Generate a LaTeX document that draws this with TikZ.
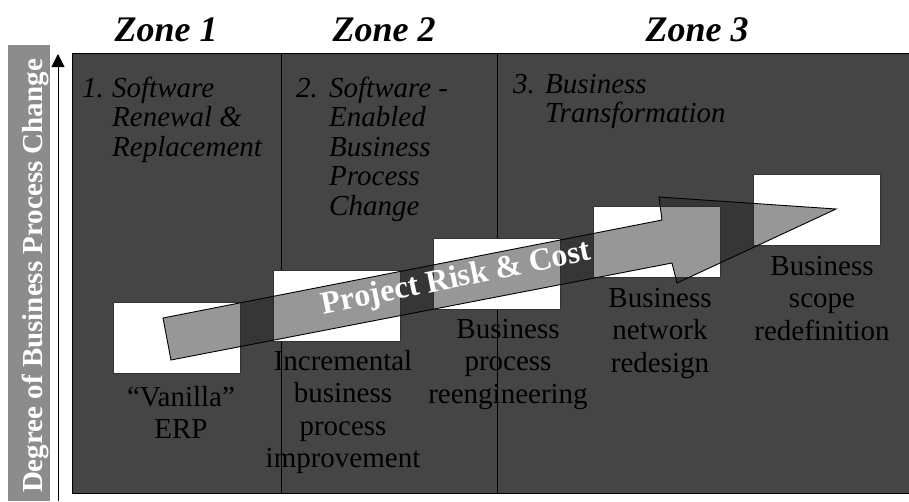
\documentclass[tikz,border=0pt]{standalone}
\usepackage{fontspec}
\setmainfont{Liberation Serif}
\usetikzlibrary{arrows.meta}
\definecolor{panelgray}{HTML}{454545}
\definecolor{bargray}{HTML}{8C8C8C}

\begin{document}
\begin{tikzpicture}[x=1pt, y=-1pt,
  zonetitle/.style={font=\fontsize{36}{40}\selectfont\bfseries\itshape, anchor=base, inner sep=0},
  zonetext/.style={font=\fontsize{29}{29.5}\selectfont\itshape, anchor=base west, inner sep=0},
  stepbox/.style={draw=black!80, fill=white, line width=0.8pt, minimum width=127pt, minimum height=71pt, inner sep=0},
  steplabel/.style={font=\fontsize{29}{32.5}\selectfont, align=center, anchor=base, inner sep=0, text width=180pt},
  riskarrow/.style={draw=black, line width=0.9pt, fill=black!85, fill opacity=0.48}]
  \useasboundingbox (0,0) rectangle (909,501);

  % side bar and axis
  \fill[bargray] (8,45) rectangle (50,501);
  \node[rotate=90, anchor=base, inner sep=0, text=white, font=\fontsize{29}{32}\selectfont\bfseries] (ylabel) at (42,276) {Degree of Business Process Change};
  \coordinate (axisbot) at (58,501);
  \coordinate (axistop) at (58,54);
  \draw[line width=0.8pt, -{Triangle[width=13pt,length=13pt]}] (axisbot) -- (axistop);

  % panel and zone borders
  \draw[fill=panelgray, line width=1pt] (72,53) rectangle (911,493);
  \draw[line width=1pt] (281,53) -- (281,493);
  \draw[line width=1pt] (497,53) -- (497,493);

  % zone titles
  \node[zonetitle] (zone1) at (166,41) {Zone 1};
  \node[zonetitle] (zone2) at (384,41) {Zone 2};
  \node[zonetitle] (zone3) at (697,41) {Zone 3};

  % zone texts
  \node[zonetext] (ztxt1) at (82,97) {\begin{tabular}[t]{@{}p{30pt}@{}l@{}}1. & Software\\ & Renewal \&\\ & Replacement\end{tabular}};
  \node[zonetext] (ztxt2) at (296,97) {\begin{tabular}[t]{@{}p{33pt}@{}l@{}}2. & Software -\\ & Enabled\\ & Business\\ & Process\\ & Change\end{tabular}};
  \node[zonetext] (ztxt3) at (513,93) {\begin{tabular}[t]{@{}p{32pt}@{}l@{}}3. & Business\\ & Transformation\end{tabular}};

  % step boxes
  \node[stepbox] (box1) at (176.5,337.5) {};
  \node[stepbox] (box2) at (336.5,305.5) {};
  \node[stepbox] (box3) at (496.5,273.5) {};
  \node[stepbox] (box4) at (656.5,241.5) {};
  \node[stepbox] (box5) at (816.5,209.5) {};

  % step labels
  \node[steplabel] (lab1) at (181,406) {“Vanilla”\\ERP};
  \node[steplabel] (lab2) at (343,370) {Incremental\\business\\process\\improvement};
  \node[steplabel] (lab3) at (508,338) {Business\\process\\reengineering};
  \node[steplabel] (lab4) at (660,307) {Business\\network\\redesign};
  \node[steplabel] (lab5) at (822,275) {Business\\scope\\redefinition};

  % risk and cost arrow
  \draw[riskarrow] (163,318) -- (662,220) -- (659,197) -- (836,209) -- (677,283) -- (672,263) -- (171,360) -- cycle;
  \node[rotate=11.5, anchor=base, inner sep=0, text=white, font=\fontsize{32}{36}\selectfont\bfseries] (risk) at (458,287) {Project Risk \& Cost};
\end{tikzpicture}
\end{document}
